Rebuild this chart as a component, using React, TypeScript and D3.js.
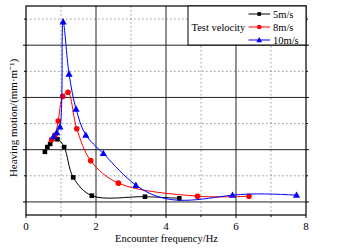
import React from "react";
import * as d3 from "d3";

const xTicks = [0, 2, 4, 6, 8];
const xMinor = [1, 3, 5, 7];
const yMajor = [0, 1, 2, 3];
const yMinor = [0.5, 1.5, 2.5, 3.5];

const freq5 = [0.54, 0.61, 0.69, 0.9, 1.09, 1.35, 1.88, 3.4, 4.38];
const heave5 = [0.96, 1.05, 1.11, 1.2, 1.05, 0.47, 0.12, 0.1, 0.07];

const freq8 = [0.73, 0.83, 0.92, 1.05, 1.2, 1.45, 1.85, 2.64, 4.9, 6.37];
const heave8 = [1.19, 1.28, 1.55, 2.02, 2.1, 1.4, 0.79, 0.36, 0.11, 0.11];

const freq10 = [0.78, 0.88, 0.97, 1.06, 1.23, 1.43, 1.71, 2.21, 3.14, 5.9, 7.73];
const heave10 = [1.25, 1.33, 1.44, 3.45, 2.45, 1.78, 1.28, 0.93, 0.32, 0.13, 0.13];

const seriesNames = ["5m/s", "8m/s", "10m/s"];
const legendTitle = "Test velocity";
const xTitle = "Encounter frequency/Hz";
const yTitle = "Heaving motion/(mm·m⁻¹)";

const W = 337, H = 248;
const L = 26, R = 306, T = 6, B = 215;
const font = "'Liberation Serif', 'Times New Roman', serif";

// natural cubic spline parameterised by x (Origin-style "Spline" connection)
function curveNaturalX(context: any) {
  let xs: number[] = [];
  let ys: number[] = [];
  return {
    areaStart() {},
    areaEnd() {},
    lineStart() {
      xs = [];
      ys = [];
    },
    point(x: number, y: number) {
      xs.push(+x);
      ys.push(+y);
    },
    lineEnd() {
      const n = xs.length;
      if (!n) return;
      context.moveTo(xs[0], ys[0]);
      if (n < 3) {
        for (let i = 1; i < n; i++) context.lineTo(xs[i], ys[i]);
        return;
      }
      const h: number[] = [];
      const d: number[] = [];
      for (let i = 0; i < n - 1; i++) {
        h.push(xs[i + 1] - xs[i]);
        d.push((ys[i + 1] - ys[i]) / h[i]);
      }
      const M = new Array(n).fill(0);
      const a: number[] = [], b: number[] = [], c: number[] = [], r: number[] = [];
      for (let i = 1; i < n - 1; i++) {
        a.push(h[i - 1]);
        b.push(2 * (h[i - 1] + h[i]));
        c.push(h[i]);
        r.push(6 * (d[i] - d[i - 1]));
      }
      const m = b.length;
      for (let i = 1; i < m; i++) {
        const w = a[i] / b[i - 1];
        b[i] -= w * c[i - 1];
        r[i] -= w * r[i - 1];
      }
      const sol = new Array(m).fill(0);
      sol[m - 1] = r[m - 1] / b[m - 1];
      for (let i = m - 2; i >= 0; i--) sol[i] = (r[i] - c[i] * sol[i + 1]) / b[i];
      for (let i = 0; i < m; i++) M[i + 1] = sol[i];
      for (let i = 0; i < n - 1; i++) {
        const s0 = d[i] - (h[i] * (2 * M[i] + M[i + 1])) / 6;
        const s1 = d[i] + (h[i] * (M[i] + 2 * M[i + 1])) / 6;
        context.bezierCurveTo(
          xs[i] + h[i] / 3,
          ys[i] + (s0 * h[i]) / 3,
          xs[i + 1] - h[i] / 3,
          ys[i + 1] - (s1 * h[i]) / 3,
          xs[i + 1],
          ys[i + 1]
        );
      }
    },
  };
}

export default function App() {
  const x = d3.scaleLinear().domain([0, 8]).range([L, R]);
  const y = d3.scaleLinear().domain([-0.25, 3.75]).range([B, T]);
  const series = [
    { name: seriesNames[0], xs: freq5, ys: heave5, color: "#000000", marker: "square", split: -1 },
    { name: seriesNames[1], xs: freq8, ys: heave8, color: "#ff0000", marker: "circle", split: -1 },
    { name: seriesNames[2], xs: freq10, ys: heave10, color: "#0000ff", marker: "triangle", split: 7 },
  ];
  const lineCR = d3
    .line<[number, number]>()
    .x((d) => x(d[0]))
    .y((d) => y(d[1]))
    .curve(d3.curveCatmullRom.alpha(0.5));
  const lineNX = d3
    .line<[number, number]>()
    .x((d) => x(d[0]))
    .y((d) => y(d[1]))
    .curve(curveNaturalX as any);

  const pathFor = (s: any) => {
    const pts = s.xs.map((v: number, i: number) => [v, s.ys[i]] as [number, number]);
    if (s.split < 0) return lineCR(pts) || "";
    return (lineCR(pts.slice(0, s.split + 1)) || "") + (lineNX(pts.slice(s.split)) || "");
  };

  const marker = (type: string, cx: number, cy: number, color: string, key: any, k = 1) => {
    if (type === "square")
      return <rect key={key} x={cx - 2.3 * k} y={cy - 2.3 * k} width={4.6 * k} height={4.6 * k} fill={color} />;
    if (type === "circle") return <circle key={key} cx={cx} cy={cy} r={2.8 * k} fill={color} />;
    const s = 3.6 * k;
    return (
      <path
        key={key}
        d={`M${cx},${cy - s}L${cx + s},${cy + s * 0.75}L${cx - s},${cy + s * 0.75}Z`}
        fill={color}
      />
    );
  };

  const lx0 = 248.5, lx1 = 270;
  const legendYs = [14, 27, 40];

  return (
    <svg
      width={W}
      height={H}
      style={{ position: "absolute", left: 0, top: 0, background: "#fff" }}
      fontFamily={font}
    >
      <rect x={0} y={0} width={W} height={H} fill="#fff" />
      {xMinor.map((v) => (
        <line key={"xm" + v} x1={x(v)} x2={x(v)} y1={T} y2={B} stroke="#777" strokeWidth={0.8} strokeDasharray="1.5,2.5" />
      ))}
      {yMinor.map((v) => (
        <line key={"ym" + v} x1={L} x2={R} y1={y(v)} y2={y(v)} stroke="#777" strokeWidth={0.8} strokeDasharray="1.5,2.5" />
      ))}
      {xTicks.slice(1, -1).map((v) => (
        <line key={"xg" + v} x1={x(v)} x2={x(v)} y1={T} y2={B} stroke="#222" strokeWidth={1} />
      ))}
      {yMajor.map((v) => (
        <line key={"yg" + v} x1={L} x2={R} y1={y(v)} y2={y(v)} stroke="#222" strokeWidth={1} />
      ))}
      {yMajor.map((v) => (
        <g key={"yt" + v}>
          <line x1={L - 3} x2={L} y1={y(v)} y2={y(v)} stroke="#000" />
          <line x1={R} x2={R + 3} y1={y(v)} y2={y(v)} stroke="#000" />
        </g>
      ))}
      {yMinor.map((v) => (
        <g key={"ytm" + v}>
          <line x1={L - 2} x2={L} y1={y(v)} y2={y(v)} stroke="#000" />
          <line x1={R} x2={R + 2} y1={y(v)} y2={y(v)} stroke="#000" />
        </g>
      ))}
      {xTicks.map((v) => (
        <line key={"xt" + v} x1={x(v)} x2={x(v)} y1={B} y2={B + 3} stroke="#000" />
      ))}
      {xMinor.map((v) => (
        <line key={"xtm" + v} x1={x(v)} x2={x(v)} y1={B} y2={B + 2} stroke="#000" />
      ))}
      {series.map((s) => (
        <g key={s.name}>
          <path d={pathFor(s)} fill="none" stroke={s.color} strokeWidth={1} />
          {s.xs.map((v, i) => marker(s.marker, x(v), y(s.ys[i]), s.color, i))}
        </g>
      ))}
      <rect x={L} y={T} width={R - L} height={B - T} fill="none" stroke="#000" strokeWidth={1.2} />
      <rect x={188} y={T} width={R - 188} height={45 - T} fill="#fff" stroke="#000" strokeWidth={1} />
      <text x={191.5} y={30.5} fontSize={10.5} fill="#000">
        {legendTitle}
      </text>
      {series.map((s, i) => (
        <g key={"lg" + s.name}>
          <line x1={lx0} x2={lx1} y1={legendYs[i]} y2={legendYs[i]} stroke={s.color} strokeWidth={1} />
          {marker(s.marker, (lx0 + lx1) / 2, legendYs[i], s.color, "m", 0.8)}
          <text x={273} y={legendYs[i] + 3.8} fontSize={10.5} fill="#000">
            {s.name}
          </text>
        </g>
      ))}
      {xTicks.map((v) => (
        <text key={"xl" + v} x={x(v)} y={230} fontSize={11} textAnchor="middle" fill="#000">
          {v}
        </text>
      ))}
      <text x={166.5} y={241.5} fontSize={10.5} textAnchor="middle" fill="#000">
        {xTitle}
      </text>
      <text transform={`translate(17,118) rotate(-90)`} fontSize={11} textAnchor="middle" fill="#000">
        {yTitle}
      </text>
    </svg>
  );
}
